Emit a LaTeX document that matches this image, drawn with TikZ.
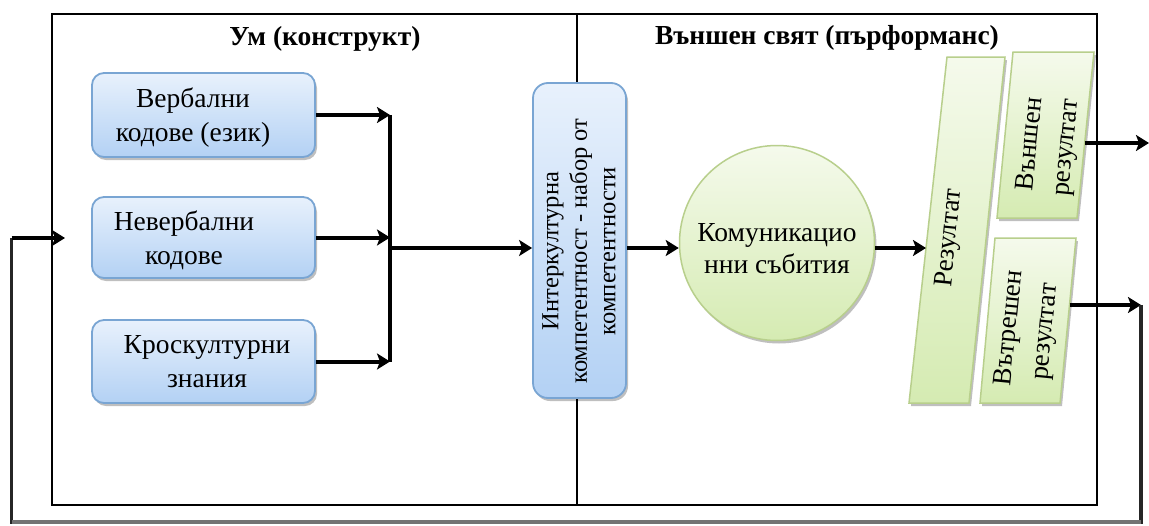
\documentclass[tikz,border=0pt]{standalone}
\usepackage{fontspec}
\setmainfont{Liberation Serif}
\usetikzlibrary{arrows.meta,shadows}
\definecolor{bluetop}{HTML}{E8F1FC}
\definecolor{bluebot}{HTML}{B3D1F4}
\definecolor{blueedge}{HTML}{79A5D3}
\definecolor{greentop}{HTML}{F5FAEC}
\definecolor{greenbot}{HTML}{D5EBB2}
\definecolor{greenedge}{HTML}{B8CF8C}
\tikzset{
  shadowed/.style={drop shadow={shadow xshift=2pt,shadow yshift=-3pt,opacity=0.25,fill=black}},
  bluebox/.style={shadowed,draw=blueedge,line width=1.8pt,rounded corners=12pt,
    top color=bluetop,bottom color=bluebot,inner sep=0pt},
  greenshape/.style={shadowed,draw=greenedge,line width=1.5pt,
    top color=greentop,bottom color=greenbot},
  txt/.style={font=\fontsize{27.5}{34}\selectfont,align=center,text=black,inner sep=0pt},
  rtxt/.style={font=\fontsize{27}{36}\selectfont,align=center,text=black,inner sep=0pt,rotate=84.3},
  ttl/.style={font=\fontsize{27.5}{30}\selectfont\bfseries,text=black,inner sep=0pt},
  arr/.style={line width=4pt,-{Stealth[length=13pt,width=16pt,inset=3pt]}},
}
\begin{document}
\begin{tikzpicture}[x=1pt,y=-1pt]
\useasboundingbox (0,0) rectangle (1149,525);
\fill[white] (0,0) rectangle (1149,525);

% frame and divider
\node[draw=black,line width=2.5pt,minimum width=1045pt,minimum height=491pt,inner sep=0pt] (frame) at (574.5,259.5) {};
\coordinate (dtop) at (577,14);
\coordinate (dbot) at (577,505);
\draw[line width=2pt] (dtop) -- (dbot);

% titles
\node[ttl] (t1) at (325,39) {Ум (конструкт)};
\node[ttl] (t2) at (827,38) {Външен свят (пърформанс)};

% left boxes
\node[bluebox,minimum width=223pt,minimum height=84pt] (verb) at (203.5,115) {};
\node[txt] (verbt) at (193,118) {Вербални\\кодове (език)};
\node[bluebox,minimum width=223pt,minimum height=81pt] (nverb) at (203.5,237.5) {};
\node[txt] (nverbt) at (184,240) {Невербални\\кодове};
\node[bluebox,minimum width=223pt,minimum height=83pt] (kros) at (203.5,361.5) {};
\node[txt] (krost) at (207,362) {Кроскултурни\\знания};

% bus
\coordinate (bustop) at (390,115);
\coordinate (busbot) at (390,362);
\coordinate (busout) at (390,248);
\draw[line width=4pt] (bustop) -- (busbot);
\draw[arr] (verb.east) -- (verb.east -| bustop);
\draw[arr] (nverb.east) -- (nverb.east -| bustop);
\draw[arr] (kros.east) -- (kros.east -| bustop);

% intercultural box
\node[bluebox,rounded corners=15pt,minimum width=93pt,minimum height=315pt] (ik) at (579.5,240.5) {};
\node[txt,font=\fontsize{24.5}{28.5}\selectfont,rotate=90] (ikt) at (579,251)
  {Интеркултурна\\компетентност - набор от\\компетентности};
\draw[arr] (busout) -- (busout -| ik.west);

% circle
\node[greenshape,circle,minimum size=195pt,inner sep=0pt] (circ) at (777,243) {};
\node[txt,font=\fontsize{27.5}{32}\selectfont] (circt) at (777,249) {Комуникацио\\нни събития};
\draw[arr] (ik.east |- busout) -- (circ.west |- busout);

% result shapes
\path[greenshape] (947,57) -- (1005,57) -- (969,403) -- (909,403) -- cycle;
\node[rtxt] (rest) at (950,238) {Резултат};
\coordinate (rin) at (926,248);
\draw[arr] (circ.east |- busout) -- (rin);

\path[greenshape] (1013,52) -- (1094,52) -- (1077,218) -- (997,218) -- cycle;
\node[rtxt] (vnt) at (1049,146) {Външен\\резултат};
\coordinate (vnout) at (1084.7,143);
\coordinate (vnend) at (1149,143);
\draw[arr] (vnout) -- (vnend);

\path[greenshape] (995,238) -- (1076,238) -- (1060,403) -- (980,403) -- cycle;
\node[rtxt] (vtt) at (1028,330) {Вътрешен\\резултат};
\coordinate (vtout) at (1069.5,305);

% feedback loop
\coordinate (fb1) at (1141,305);
\coordinate (fb2) at (1141,522);
\coordinate (fb3) at (11.5,522);
\coordinate (fb4) at (11.5,238);
\coordinate (fb5) at (65,238);
\draw[arr] (vtout) -- (fb1);
\draw[line width=3.5pt,black!85] (fb1) -- (fb2) -- (fb3) -- (fb4);
\draw[line width=3.5pt,black!55] (fb2) -- (fb3);
\draw[arr] (fb4) -- (fb5);
\end{tikzpicture}
\end{document}
